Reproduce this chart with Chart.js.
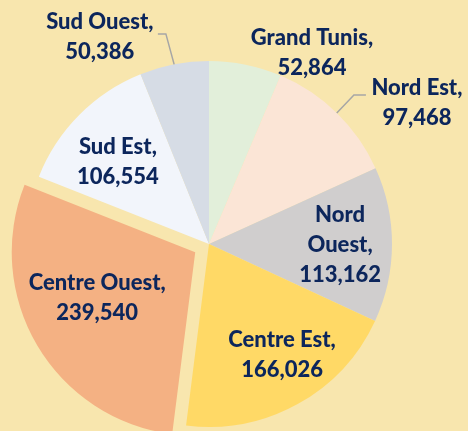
<!DOCTYPE html>
<html>
<head>
<meta charset="utf-8">
<script src="https://cdn.jsdelivr.net/npm/chart.js@4"></script>
<style>
    html, body { margin: 0; padding: 0; background: #F8E6AE; overflow: hidden; }
    #wrap { width: 474px; height: 460px; margin-left: -6px; }
</style>
</head>
<body>
<div id="wrap"><canvas id="regionChart"></canvas></div>
<script>
const regions = ["Grand Tunis", "Nord Est", "Nord Ouest", "Centre Est", "Centre Ouest", "Sud Est", "Sud Ouest"];
const effectifs = [52864, 97468, 113162, 166026, 239540, 106554, 50386];

const couleurs = ["#E2EFDA", "#FBE5D6", "#D0CECE", "#FFD966", "#F4B183", "#F2F5FB", "#D6DCE5"];
// Chart.js deplace l'arc de offset/4
const decalages = [0, 0, 0, 0, 64, 0, 0];
// position des etiquettes : [angle en degres depuis le haut, fraction du rayon]
const posEtiquettes = [[28.3, 1.186], [55.9, 1.372], [90.4, 0.716], [146.7, 0.727], [244.3, 0.678], [312, 0.67], [332.2, 1.279]];
const coupures = [false, false, true, false, false, false, false];
// lignes de rappel : [angle coude, fraction coude, longueur horizontale]
const rappels = [null, [44.2, 1.136, 12], null, null, null, null, [348.4, 1.172, -8]];

const etiquettesPlugin = {
    id: "etiquettes",
    afterDatasetsDraw(chart) {
        const ctx = chart.ctx;
        const meta = chart.getDatasetMeta(0);
        const rad = d => (d - 90) * Math.PI / 180;
        ctx.save();
        meta.data.forEach((arc, i) => {
            const cx = arc.x, cy = arc.y, R = arc.outerRadius;
            const rp = rappels[i];
            if (rp) {
                const mid = (arc.startAngle + arc.endAngle) / 2;
                const x0 = cx + Math.cos(mid) * R, y0 = cy + Math.sin(mid) * R;
                const x1 = cx + Math.cos(rad(rp[0])) * R * rp[1];
                const y1 = cy + Math.sin(rad(rp[0])) * R * rp[1];
                ctx.strokeStyle = "#A6A6A6";
                ctx.lineWidth = 1.5;
                ctx.beginPath();
                ctx.moveTo(x0, y0);
                ctx.lineTo(x1, y1);
                ctx.lineTo(x1 + rp[2], y1);
                ctx.stroke();
            }
            const p = posEtiquettes[i];
            const lx = cx + Math.cos(rad(p[0])) * R * p[1];
            const ly = cy + Math.sin(rad(p[0])) * R * p[1];
            let lignes = coupures[i] ? regions[i].split(" ") : [regions[i]];
            lignes[lignes.length - 1] += ",";
            lignes.push(effectifs[i].toLocaleString("en-US"));
            ctx.fillStyle = "#0C265C";
            ctx.font = "900 22px Lato";
            ctx.textAlign = "center";
            ctx.textBaseline = "middle";
            const h = 30;
            lignes.forEach((t, k) => {
                ctx.fillText(t, lx, ly + (k - (lignes.length - 1) / 2) * h);
            });
        });
        ctx.restore();
    }
};

new Chart(document.getElementById("regionChart"), {
    type: "pie",
    data: {
        labels: regions,
        datasets: [{
            data: effectifs,
            backgroundColor: couleurs,
            borderWidth: 0,
            hoverBorderWidth: 0,
            offset: decalages,
            hoverOffset: 0
        }]
    },
    options: {
        responsive: true,
        maintainAspectRatio: false,
        animation: false,
        layout: { padding: { top: 29, bottom: 1, left: 0, right: 44 } },
        plugins: {
            legend: { display: false },
            tooltip: { enabled: false }
        }
    },
    plugins: [etiquettesPlugin]
});
</script>
</body>
</html>
